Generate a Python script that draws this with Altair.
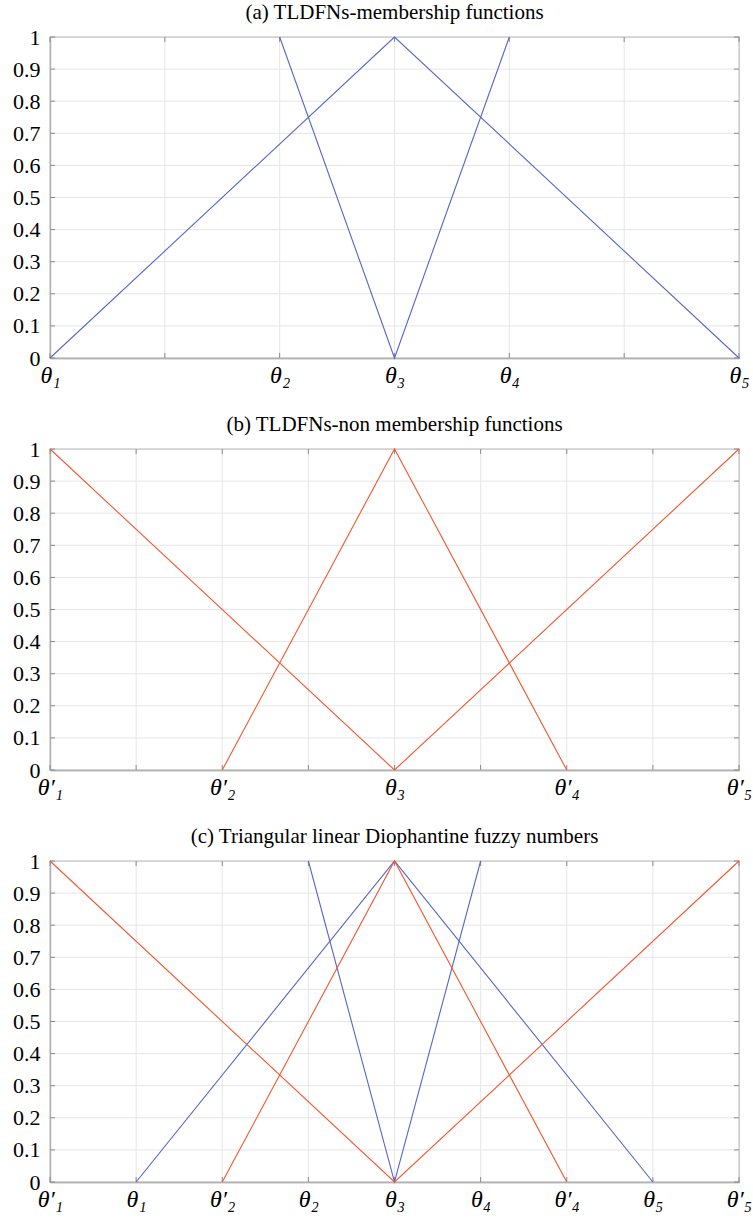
import altair as alt
import pandas as pd

BLUE = "#5567c9"
RED = "#f2582f"
FONT = "Liberation Serif"
W, H = 689, 321

y_ticks = [0, 0.1, 0.2, 0.3, 0.4, 0.5, 0.6, 0.7, 0.8, 0.9, 1]

# ---- panel (a) ----
a_title = "(a) TLDFNs-membership functions"
a_xmax = 6
a_ticks = [0, 1, 2, 3, 4, 5, 6]
a_label_pos = [0, 2, 3, 4, 6]
a_labels = ["θ₁", "θ₂", "θ₃", "θ₄", "θ₅"]
a_mu1_x = [0, 3, 6]
a_mu1_y = [0, 1, 0]
a_mu2_x = [2, 3, 4]
a_mu2_y = [1, 0, 1]

# ---- panel (b) ----
b_title = "(b) TLDFNs-non membership functions"
b_xmax = 8
b_ticks = [0, 1, 2, 3, 4, 5, 6, 7, 8]
b_label_pos = [0, 2, 4, 6, 8]
b_labels = ["θ′₁", "θ′₂", "θ₃", "θ′₄", "θ′₅"]
b_nu1_x = [0, 4, 8]
b_nu1_y = [1, 0, 1]
b_nu2_x = [2, 4, 6]
b_nu2_y = [0, 1, 0]

# ---- panel (c) ----
c_title = "(c) Triangular linear Diophantine fuzzy numbers"
c_xmax = 8
c_ticks = [0, 1, 2, 3, 4, 5, 6, 7, 8]
c_label_pos = [0, 1, 2, 3, 4, 5, 6, 7, 8]
c_labels = ["θ′₁", "θ₁", "θ′₂", "θ₂", "θ₃", "θ₄", "θ′₄", "θ₅", "θ′₅"]
c_mu1_x = [1, 4, 7]
c_mu1_y = [0, 1, 0]
c_mu2_x = [3, 4, 5]
c_mu2_y = [1, 0, 1]
c_nu1_x = [0, 4, 8]
c_nu1_y = [1, 0, 1]
c_nu2_x = [2, 4, 6]
c_nu2_y = [0, 1, 0]


def series_df(sid, color, xs, ys):
    return pd.DataFrame({"x": xs, "y": ys, "s": sid, "c": color, "o": list(range(len(xs)))})


def panel(title, xmax, ticks, label_pos, labels, series):
    expr = ""
    for p, l in zip(label_pos, labels):
        expr += f"datum.value == {p} ? '{l}' : "
    expr += "''"
    xs = alt.Scale(domain=[0, xmax], nice=False, zero=False)
    ys = alt.Scale(domain=[0, 1], nice=False)

    x_axis = alt.Axis(values=label_pos, labelExpr=expr, grid=False, ticks=False,
                      domainColor="#7f7f7f", domainWidth=1.3,
                      labelFont=FONT, labelFontStyle="italic", labelFontSize=24,
                      labelColor="black", labelPadding=5, title=None,
                      labelFlush=False, labelOverlap=False)
    y_axis = alt.Axis(values=y_ticks, format="~g", grid=False, ticks=False,
                      domainColor="#7f7f7f", domainWidth=1.3,
                      labelFont=FONT, labelFontSize=22, labelColor="black",
                      labelPadding=10, title=None, labelFlush=False,
                      labelOverlap=False)

    df = pd.concat(series, ignore_index=True)
    tdf = pd.DataFrame({"t": ticks})
    ydf = pd.DataFrame({"v": y_ticks})

    def X(f):
        return alt.X(f, scale=xs, axis=x_axis)

    def Y(f):
        return alt.Y(f, scale=ys, axis=y_axis)

    grid = alt.Chart(tdf).mark_rule(color="#e6e6e6", strokeWidth=1).encode(x=X("t:Q"))
    ygrid = alt.Chart(ydf).mark_rule(color="#e6e6e6", strokeWidth=1).encode(y=Y("v:Q"))
    tick_b = alt.Chart(tdf).mark_rule(color="#8a8a8a").encode(
        x=X("t:Q"), y=alt.value(H), y2=alt.value(H - 5))
    tick_t = alt.Chart(tdf).mark_rule(color="#8a8a8a").encode(
        x=X("t:Q"), y=alt.value(0), y2=alt.value(5))
    tick_l = alt.Chart(ydf).mark_rule(color="#8a8a8a").encode(
        y=Y("v:Q"), x=alt.value(0), x2=alt.value(5))
    tick_r = alt.Chart(ydf).mark_rule(color="#8a8a8a").encode(
        y=Y("v:Q"), x=alt.value(W), x2=alt.value(W - 5))
    lines = alt.Chart(df).mark_line(strokeWidth=1.1, clip=False).encode(
        x=X("x:Q"),
        y=Y("y:Q"),
        detail="s:N",
        color=alt.Color("c:N", scale=None),
        order="o:Q",
    )
    return alt.layer(grid, ygrid, tick_b, tick_t, tick_l, tick_r, lines).properties(
        width=W, height=H,
        title=alt.TitleParams(title, font=FONT, fontSize=21, fontWeight="normal",
                              color="black", anchor="middle", offset=3),
    )


pa = panel(a_title, a_xmax, a_ticks, a_label_pos, a_labels, [
    series_df("m1", BLUE, a_mu1_x, a_mu1_y),
    series_df("m2", BLUE, a_mu2_x, a_mu2_y),
])
pb = panel(b_title, b_xmax, b_ticks, b_label_pos, b_labels, [
    series_df("n1", RED, b_nu1_x, b_nu1_y),
    series_df("n2", RED, b_nu2_x, b_nu2_y),
])
pc = panel(c_title, c_xmax, c_ticks, c_label_pos, c_labels, [
    series_df("m1", BLUE, c_mu1_x, c_mu1_y),
    series_df("m2", BLUE, c_mu2_x, c_mu2_y),
    series_df("n1", RED, c_nu1_x, c_nu1_y),
    series_df("n2", RED, c_nu2_x, c_nu2_y),
])

chart = alt.vconcat(pa, pb, pc, spacing=25).properties(
    padding={"left": 11, "top": 1, "right": 0, "bottom": 0},
    background="white",
).configure_view(stroke="#a6a6a6", strokeWidth=1.3).configure_axis(
    labelFont=FONT, labelColor="black", labelFontWeight="normal",
).configure_axisX(
    labelFontSize=24, labelFontStyle="italic", labelPadding=5,
).configure_axisY(
    labelFontSize=22, labelPadding=10,
)

chart.save("out.html", embed_options={"renderer": "svg", "actions": False})
